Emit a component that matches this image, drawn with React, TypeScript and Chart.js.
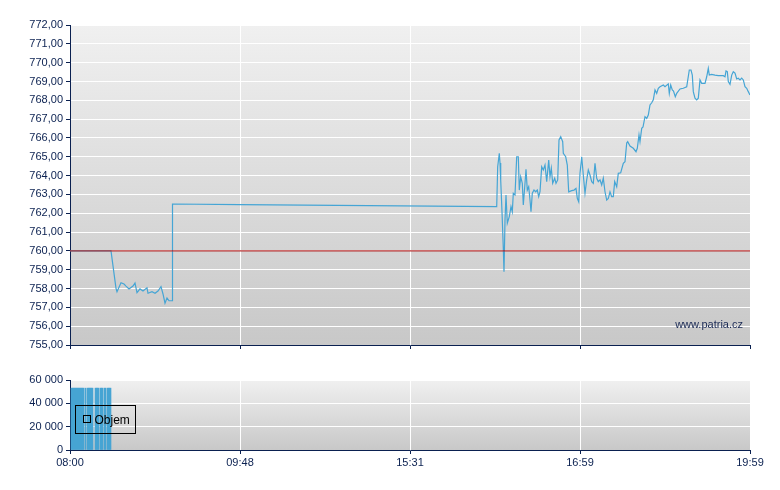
import React, { useEffect, useRef } from 'react';
import { Chart, registerables } from 'chart.js';
Chart.register(...registerables);

// time index axis (0..680), labels at these positions
const xTickPositions = [0, 170, 340, 510, 680];
const xTickLabels = ['08:00', '09:48', '15:31', '16:59', '19:59'];

const priceX = [
  0, 41, 46, 47, 51, 54, 56, 59, 63, 65, 67, 70, 73, 77, 78, 82, 85, 88, 91, 93, 95, 97, 99, 102,
  102.5, 170, 426.7,
  427.7, 429.3, 430, 430.7, 432, 433.3, 434, 435, 436, 437.3, 439.3, 441, 442.3, 443.3, 445, 446.7, 448.3,
  449.3, 450.7, 452.3, 453.3, 455, 456, 457.3, 458.7, 460, 461, 462.3, 464, 465.7, 467.3, 468.7, 470,
  471.7, 473.3, 475, 476.7, 478.7, 480, 481.3, 482.7, 484.7, 486, 487.7, 489, 490.7, 492.7, 493.3, 495.7,
  497.3, 498.7, 501.7, 504, 506, 507.3, 508.7, 510, 511.7, 513.3, 515, 516.7, 518.3, 520, 521.7, 523.3,
  525, 526.7, 528.3, 530, 531.7, 533.3, 535, 536.7, 538.3, 540, 541.7, 543.3, 544.7, 546.7, 548.3, 550.7,
  553.3, 555, 556.7, 557.7, 560, 563.3, 566, 567.3, 569, 570, 571.7, 573, 575, 576.7, 578.3, 580, 581.7,
  583.3, 585, 586.7, 588.3, 590, 593.3, 595, 598.3, 599.3, 600.7, 602.3, 603.5, 605.3, 606.7, 610, 613.3,
  616.7, 619.3, 621, 622.3, 623.3, 625, 626.7, 628.3, 630, 631.7, 635, 636.7, 638.3, 639.3, 641.7, 645,
  648.3, 653.3, 655, 656, 657.3, 658.3, 660, 661.7, 663.3, 665, 666.7, 668.3, 670, 671.7, 673.3, 675,
  676.7, 678.3, 680,
];
const priceY = [
  760.0, 760.0, 758.01, 757.83, 758.31, 758.24, 758.13, 757.98, 758.13, 758.29, 757.78, 757.98, 757.87, 758.04, 757.75, 757.83, 757.75, 757.87, 758.1, 757.71, 757.22, 757.5, 757.35, 757.35,
  762.49, 762.46, 762.35,
  764.47, 765.18, 764.67, 763.77, 762.08, 760.14, 758.89, 761.64, 762.97, 761.47, 761.82, 762.35, 762.08, 763.06, 762.97, 765.0, 765.0,
  763.23, 763.94, 763.59, 762.44, 763.59, 764.33, 763.23, 763.41, 762.7, 762.08, 763.06, 763.23, 763.14, 763.23, 762.88, 763.14,
  764.47, 764.3, 764.56, 763.68, 764.83, 763.94, 764.39, 763.59, 763.86, 763.59, 763.77, 765.89, 766.07, 765.8, 765.18, 765.0,
  764.56, 763.14, 763.2, 763.23, 763.32, 762.79, 762.61, 764.12, 765.0, 764.03, 763.06, 763.77, 764.3, 764.03, 763.68, 763.59,
  764.65, 763.86, 763.68, 763.77, 763.5, 763.86, 763.14, 762.7, 762.79, 763.14, 762.88, 762.88, 763.68, 763.41, 764.12, 764.15,
  764.65, 764.74, 765.73, 765.8, 765.57, 765.45, 765.27, 765.45, 766.16, 765.8, 766.51, 766.58, 767.13, 767.04, 767.22, 767.75, 767.87,
  768.02, 768.55, 768.37, 768.64, 768.72, 768.81, 768.72, 768.87, 768.37, 768.81, 768.55, 768.49, 768.19, 768.37, 768.6, 768.64,
  768.72, 769.61, 769.61, 769.34, 768.46, 768.11, 768.02, 768.11, 769.08, 768.9, 768.9, 769.25, 769.7, 769.34, 769.38, 769.34,
  769.31, 769.31, 769.25, 769.56, 769.52, 768.99, 768.85, 769.34, 769.52, 769.45, 769.13, 769.17, 769.08, 769.18, 769.08, 768.72,
  768.64, 768.46, 768.28,
];
const refLevel = 760;

const volX = [
  1.5, 2.5, 3.5, 4.5, 5.5, 6.5, 7.5, 8.5, 9.5, 10.5, 11.5, 12.5, 13.5, 15.5, 17.5, 18.5, 19.5,
  20.5, 21.5, 22.5, 25.5, 26.5, 27.5, 28.5, 30.5, 31.5, 32.5, 34.5, 35.5, 37.5, 38.5, 39.5, 40.5,
];
const volY = [
  53000, 53000, 53000, 53000, 53000, 53000, 53000, 53000, 53000, 53000, 53000, 53000, 53000, 53000, 53000, 53000, 53000,
  53000, 53000, 53000, 53000, 53000, 53000, 53000, 53000, 53000, 53000, 53000, 53000, 53000, 53000, 53000, 53000,
];

const NAVY = '#0a2050';
const FONT = '"Liberation Sans", Arial, sans-serif';

const bgPlugin = {
  id: 'bgGrad',
  beforeDraw(chart: any) {
    const { ctx, chartArea: a } = chart;
    const g = ctx.createLinearGradient(0, a.top, 0, a.bottom);
    g.addColorStop(0, '#f0f0f0');
    g.addColorStop(1, '#c8c8c8');
    ctx.save();
    ctx.fillStyle = g;
    ctx.fillRect(a.left, a.top, a.right - a.left, a.bottom - a.top);
    ctx.restore();
  },
};

const watermarkPlugin = {
  id: 'watermark',
  afterDraw(chart: any) {
    const { ctx, chartArea: a } = chart;
    ctx.save();
    ctx.font = '11px ' + FONT;
    ctx.fillStyle = '#1a2a55';
    ctx.textAlign = 'right';
    ctx.textBaseline = 'alphabetic';
    ctx.fillText('www.patria.cz', a.right - 7, a.bottom - 17);
    ctx.restore();
  },
};

const legendPlugin = {
  id: 'volLegend',
  afterDraw(chart: any) {
    const { ctx, chartArea: a } = chart;
    const x0 = a.left + 5.5;
    const y0 = a.top + 25.5;
    ctx.save();
    ctx.strokeStyle = '#000';
    ctx.lineWidth = 1;
    ctx.strokeRect(x0, y0, 60, 28);
    ctx.strokeRect(x0 + 8, y0 + 10, 7, 7);
    ctx.font = '12px ' + FONT;
    ctx.fillStyle = '#000';
    ctx.textBaseline = 'middle';
    ctx.fillText('Objem', x0 + 19, y0 + 15);
    ctx.restore();
  },
};

const xTicksSetter = (s: any) => {
  s.ticks = xTickPositions.map((v) => ({ value: v }));
};

export default function App() {
  const topRef = useRef<HTMLCanvasElement>(null);
  const botRef = useRef<HTMLCanvasElement>(null);

  useEffect(() => {
    const top = new Chart(topRef.current as HTMLCanvasElement, {
      type: 'line',
      data: {
        datasets: [
          {
            data: [
              { x: xTickPositions[0], y: refLevel },
              { x: xTickPositions[xTickPositions.length - 1], y: refLevel },
            ],
            borderColor: 'rgba(175,20,20,0.85)',
            borderWidth: 1.1,
            pointRadius: 0,
          },
          {
            data: priceX.map((x, i) => ({ x, y: priceY[i] })),
            borderColor: '#45a5d5',
            borderWidth: 1.2,
            pointRadius: 0,
            tension: 0,
          },
        ],
      },
      options: {
        responsive: false,
        animation: false,
        events: [],
        layout: { padding: { top: 25, right: 30, left: 0, bottom: 0 } },
        plugins: { legend: { display: false }, tooltip: { enabled: false } },
        scales: {
          x: {
            type: 'linear',
            min: 0,
            max: 680,
            afterBuildTicks: xTicksSetter,
            afterFit: (s: any) => { s.height = 15; },
            ticks: { display: false },
            grid: { color: '#ffffff', tickColor: NAVY, tickLength: 4, lineWidth: 1 },
            border: { color: NAVY, width: 1 },
          },
          y: {
            min: 755,
            max: 772,
            afterFit: (s: any) => { s.width = 70; },
            ticks: {
              stepSize: 1,
              color: NAVY,
              padding: 3,
              font: { family: FONT, size: 11 },
              callback: (v: any) => Number(v).toFixed(2).replace('.', ','),
            },
            grid: { color: '#ffffff', tickColor: NAVY, tickLength: 4, lineWidth: 1 },
            border: { color: NAVY, width: 1 },
          },
        },
      },
      plugins: [bgPlugin, watermarkPlugin],
    } as any);

    const bot = new Chart(botRef.current as HTMLCanvasElement, {
      type: 'bar',
      data: {
        datasets: [
          {
            data: volX.map((x, i) => ({ x, y: volY[i] })),
            backgroundColor: '#47a4d3',
            borderWidth: 0,
            barPercentage: 1,
            categoryPercentage: 1,
          },
        ],
      },
      options: {
        responsive: false,
        animation: false,
        events: [],
        layout: { padding: { top: 20, right: 30, left: 0, bottom: 0 } },
        plugins: { legend: { display: false }, tooltip: { enabled: false } },
        scales: {
          x: {
            type: 'linear',
            min: 0,
            max: 680,
            offset: false,
            afterBuildTicks: xTicksSetter,
            afterFit: (s: any) => { s.height = 40; },
            ticks: {
              color: NAVY,
              padding: 2,
              maxRotation: 0,
              autoSkip: false,
              font: { family: FONT, size: 11 },
              callback: (v: any) => {
                const i = xTickPositions.indexOf(Number(v));
                return i >= 0 ? xTickLabels[i] : '';
              },
            },
            grid: { offset: false, color: '#ffffff', tickColor: NAVY, tickLength: 4, lineWidth: 1 },
            border: { color: NAVY, width: 1 },
          },
          y: {
            min: 0,
            max: 60000,
            afterFit: (s: any) => { s.width = 70; },
            ticks: {
              stepSize: 20000,
              color: NAVY,
              padding: 3,
              font: { family: FONT, size: 11 },
              callback: (v: any) => (Number(v) === 0 ? '0' : Number(v) / 1000 + ' 000'),
            },
            grid: { color: '#ffffff', tickColor: NAVY, tickLength: 4, lineWidth: 1 },
            border: { color: NAVY, width: 1 },
          },
        },
      },
      plugins: [bgPlugin, legendPlugin],
    } as any);

    return () => {
      top.destroy();
      bot.destroy();
    };
  }, []);

  return (
    <div style={{ position: 'absolute', left: 0, top: 0, width: 780, height: 490, background: '#ffffff' }}>
      <canvas ref={topRef} width={780} height={360} style={{ position: 'absolute', left: 0, top: 0 }} />
      <canvas ref={botRef} width={780} height={130} style={{ position: 'absolute', left: 0, top: 360 }} />
    </div>
  );
}
